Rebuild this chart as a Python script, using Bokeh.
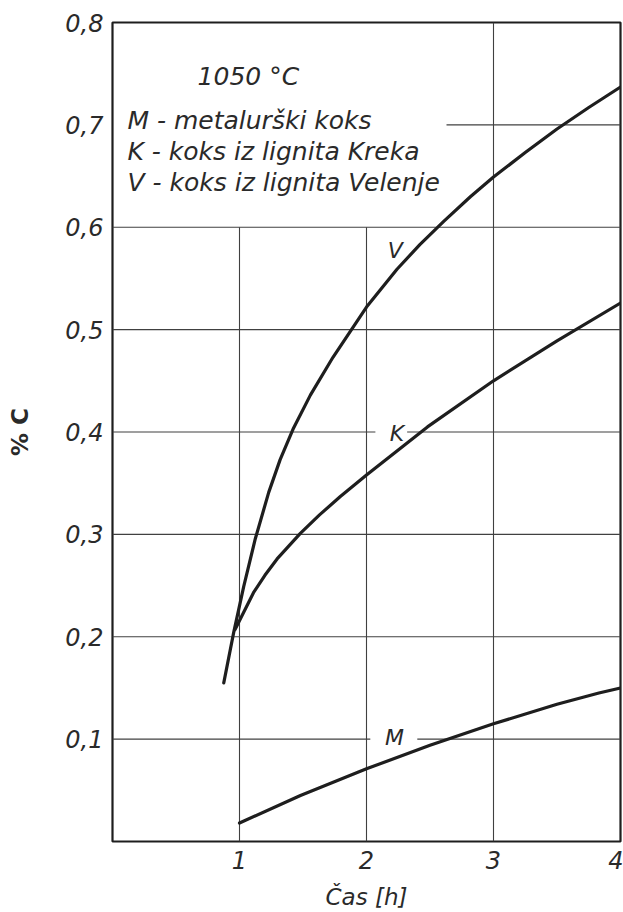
from bokeh.plotting import figure
from bokeh.models import Range1d, FixedTicker, Label
from bokeh.embed import file_html
from bokeh.resources import INLINE

# ---- data ----
v_x = [0.876, 0.954, 1.033, 1.125, 1.23, 1.32, 1.426, 1.558, 1.736, 2.0, 2.24, 2.42, 2.61, 2.82, 3.0, 3.25, 3.5, 3.75, 4.0]
v_y = [0.155, 0.204, 0.249, 0.296, 0.341, 0.373, 0.404, 0.436, 0.473, 0.522, 0.559, 0.583, 0.606, 0.630, 0.649, 0.673, 0.696, 0.717, 0.737]

k_x = [0.965, 1.11, 1.2, 1.296, 1.479, 1.63, 1.794, 2.0, 2.48, 3.0, 3.5, 4.0]
k_y = [0.207, 0.243, 0.260, 0.276, 0.301, 0.319, 0.337, 0.358, 0.405, 0.450, 0.489, 0.526]

m_x = [1.0, 1.48, 2.0, 2.5, 3.0, 3.5, 3.83, 4.0]
m_y = [0.018, 0.045, 0.071, 0.094, 0.115, 0.134, 0.145, 0.150]

y_ticks = [0.1, 0.2, 0.3, 0.4, 0.5, 0.6, 0.7, 0.8]
y_tick_labels = ["0,1", "0,2", "0,3", "0,4", "0,5", "0,6", "0,7", "0,8"]
x_ticks = [1, 2, 3, 4]
x_tick_labels = ["1", "2", "3", "4"]

# grid line pieces (horizontal: y, x0, x1 ; vertical: x, y0, y1)
hgrid_y = [0.1, 0.1, 0.2, 0.3, 0.4, 0.4, 0.5, 0.6, 0.7]
hgrid_x0 = [0.0, 2.40, 0.0, 0.0, 0.0, 2.32, 0.0, 0.0, 2.63]
hgrid_x1 = [2.03, 4.0, 4.0, 4.0, 2.07, 4.0, 4.0, 4.0, 4.0]
vgrid_x = [1, 2, 3]
vgrid_y0 = [0.0, 0.0, 0.0]
vgrid_y1 = [0.6, 0.6, 0.8]

legend_title = "1050 °C"
legend_lines = ["M - metalurški koks", "K - koks iz lignita Kreka", "V - koks iz lignita Velenje"]
legend_x = [0.67, 0.118, 0.118, 0.118]
legend_y = [0.747, 0.704, 0.674, 0.644]

curve_names = ["V", "K", "M"]
curve_label_x = [2.227, 2.24, 2.22]
curve_label_y = [0.577, 0.399, 0.102]

FONT = "DejaVu Sans"
INK = "#1e1e1e"
TXT = "#2a2a2a"

p = figure(width=623, height=912, output_backend="svg", toolbar_location=None,
           x_range=Range1d(0, 4), y_range=Range1d(0, 0.8),
           min_border_left=112, min_border_right=3, min_border_top=22, min_border_bottom=70)
p.xgrid.visible = False
p.ygrid.visible = False
p.outline_line_color = INK
p.outline_line_width = 2.2
p.background_fill_color = "white"
p.border_fill_color = "white"

# grid
p.segment(x0=hgrid_x0, y0=hgrid_y, x1=hgrid_x1, y1=hgrid_y, line_color="#404040", line_width=1.1)
p.segment(x0=vgrid_x, y0=vgrid_y0, x1=vgrid_x, y1=vgrid_y1, line_color="#404040", line_width=1.1)

# curves
for xs, ys in [(v_x, v_y), (k_x, k_y), (m_x, m_y)]:
    p.line(xs, ys, line_color=INK, line_width=3.2, line_join="round", line_cap="round")

# axes
for ax in (p.xaxis[0], p.yaxis[0]):
    ax.axis_line_color = None
    ax.major_tick_line_color = None
    ax.minor_tick_line_color = None
    ax.major_tick_out = 0
    ax.major_tick_in = 0
    ax.minor_tick_out = 0
    ax.minor_tick_in = 0
    ax.major_label_text_font = FONT
    ax.major_label_text_font_style = "italic"
    ax.major_label_text_font_size = "24px"
    ax.major_label_text_color = TXT

p.yaxis.ticker = FixedTicker(ticks=y_ticks)
p.yaxis.major_label_overrides = {t: l for t, l in zip(y_ticks, y_tick_labels)}
p.yaxis.major_label_standoff = 9
p.yaxis.axis_label = "% C"
p.yaxis.axis_label_text_font = FONT
p.yaxis.axis_label_text_font_style = "bold"
p.yaxis.axis_label_text_font_size = "23px"
p.yaxis.axis_label_text_color = TXT
p.yaxis.axis_label_standoff = 29

p.xaxis.ticker = FixedTicker(ticks=x_ticks)
p.xaxis.major_label_overrides = {t: l for t, l in zip(x_ticks, x_tick_labels)}
p.xaxis.major_label_standoff = 9
p.xaxis.axis_label = "Čas [h]"
p.xaxis.axis_label_text_font = FONT
p.xaxis.axis_label_text_font_style = "italic"
p.xaxis.axis_label_text_font_size = "23px"
p.xaxis.axis_label_text_color = TXT
p.xaxis.axis_label_standoff = 12

# legend text block
for txt, lx, ly in zip([legend_title] + legend_lines, legend_x, legend_y):
    p.add_layout(Label(x=lx, y=ly, text=txt, text_font=FONT, text_font_style="italic",
                       text_font_size="25px", text_color=TXT, text_baseline="middle"))

# curve labels
for txt, lx, ly in zip(curve_names, curve_label_x, curve_label_y):
    p.add_layout(Label(x=lx, y=ly, text=txt, text_font=FONT, text_font_style="italic",
                       text_font_size="22px", text_color=TXT, text_baseline="middle",
                       text_align="center"))

open("out.html", "w").write(file_html(p, INLINE))
